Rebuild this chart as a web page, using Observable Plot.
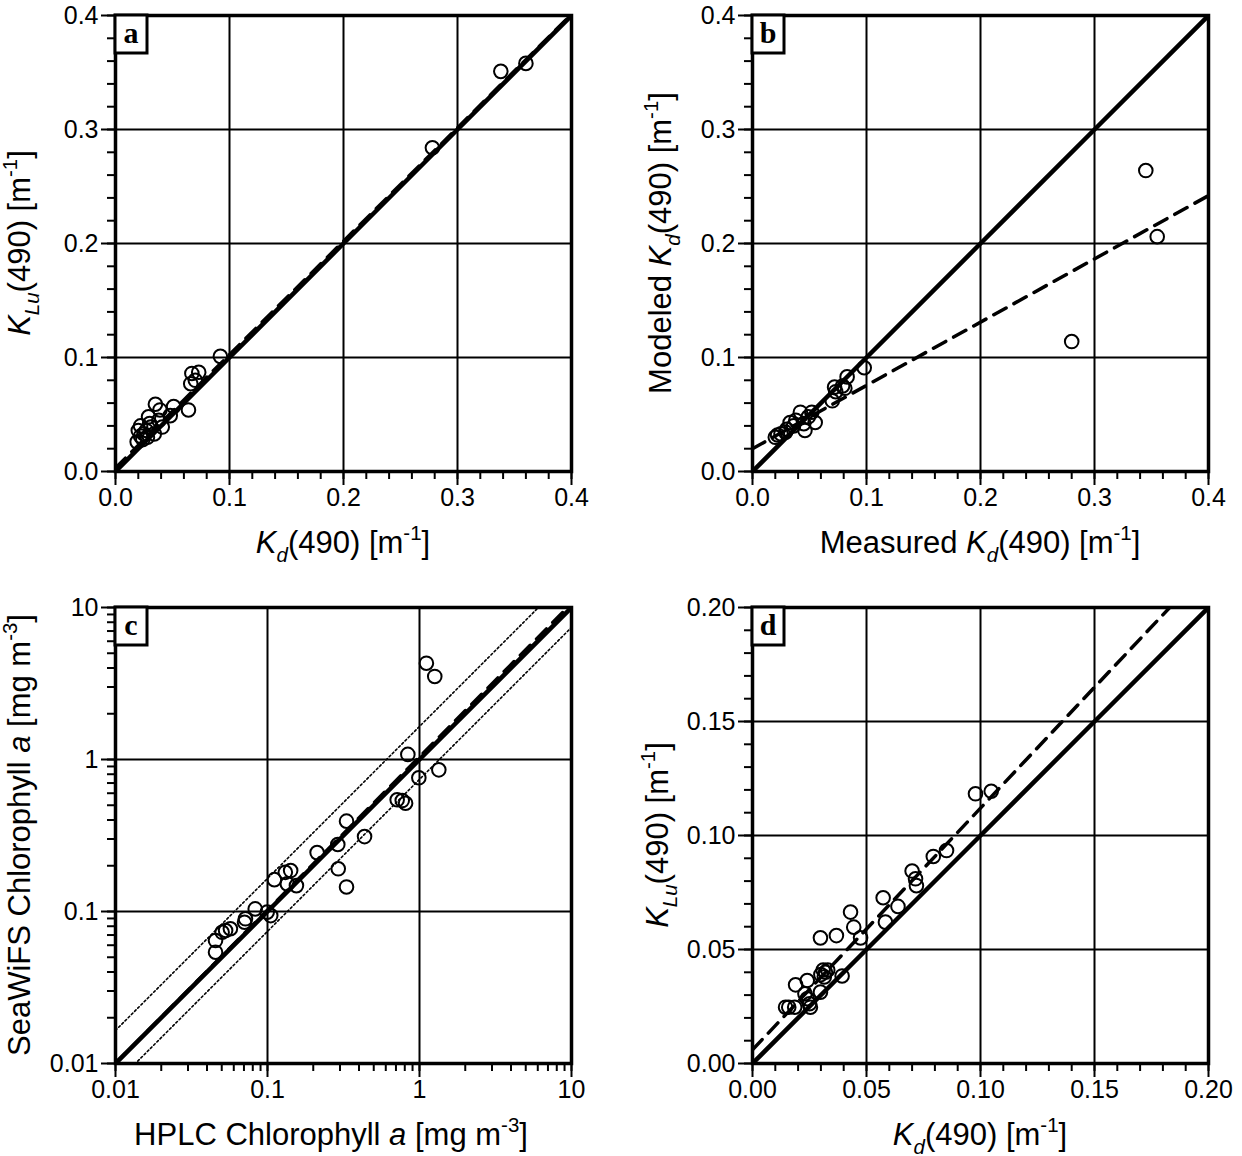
<!DOCTYPE html>
<html><head><meta charset="utf-8">
<script src="https://cdn.jsdelivr.net/npm/d3@7"></script>
<script src="https://cdn.jsdelivr.net/npm/@observablehq/plot@0.6"></script>
<style>
body{margin:0;background:#fff;}
#chart{position:relative;width:1242px;height:1156px;background:#fff;}
#chart svg{position:absolute;overflow:visible;}
</style></head><body><div id="chart"></div>
<script>
// ---------- Panel a : K_d(490) vs K_Lu(490) ----------
const aKd  = [0.338,0.360,0.278,0.092,0.067,0.073,0.066,0.070,0.064,0.035,0.051,0.048,0.039,0.029,0.022,0.031,0.041,0.020,0.019,0.028,0.034,0.025,0.038,0.024,0.030,0.022,0.027];
const aKlu = [0.351,0.358,0.284,0.101,0.086,0.087,0.077,0.080,0.054,0.059,0.057,0.049,0.054,0.048,0.040,0.039,0.039,0.036,0.026,0.030,0.033,0.033,0.045,0.028,0.042,0.031,0.036];
const aFitX = [0, 0.4];
const aFitY = [0.003, 0.401];
// ---------- Panel b : measured vs modeled K_d(490) ----------
const bMeasured = [0.345,0.355,0.280,0.098,0.083,0.079,0.081,0.072,0.073,0.070,0.042,0.052,0.055,0.046,0.033,0.038,0.030,0.022,0.020,0.025,0.045,0.049,0.029,0.036];
const bModeled  = [0.264,0.206,0.114,0.091,0.083,0.075,0.073,0.074,0.070,0.062,0.052,0.052,0.043,0.036,0.043,0.045,0.037,0.032,0.030,0.033,0.042,0.048,0.0345,0.040];
const bFitX = [0, 0.4];
const bFitY = [0.020, 0.242];
// ---------- Panel c : HPLC vs SeaWiFS chlorophyll a ----------
const cHplc    = [1.11,1.26,0.838,1.34,0.99,0.713,0.77,0.81,0.331,0.435,0.290,0.212,0.292,0.331,0.142,0.131,0.111,0.135,0.155,0.083,0.0716,0.0706,0.105,0.0995,0.057,0.053,0.0503,0.0455,0.0455];
const cSeawifs = [4.30,3.52,1.08,0.855,0.758,0.543,0.537,0.516,0.393,0.311,0.276,0.244,0.191,0.145,0.186,0.181,0.162,0.152,0.148,0.104,0.0895,0.085,0.094,0.099,0.077,0.075,0.073,0.0644,0.054];
const cFitX = [0.01, 10];
const cFitY = [0.01, 10.6];
const cUpperX = [0.01, 10];
const cUpperY = [0.0165, 16.5];
const cLowerX = [0.01, 10];
const cLowerY = [0.0074, 7.4];
// ---------- Panel d : K_d(490) vs K_Lu(490) ----------
const dKd  = [0.0978,0.1047,0.0793,0.0851,0.070,0.0715,0.0719,0.0573,0.0638,0.0583,0.043,0.0444,0.0474,0.0368,0.0298,0.0393,0.031,0.032,0.033,0.030,0.0315,0.024,0.0189,0.0298,0.023,0.024,0.025,0.0145,0.0159,0.0254,0.0185];
const dKlu = [0.1183,0.1194,0.0908,0.0934,0.0844,0.081,0.078,0.0727,0.0689,0.062,0.0664,0.0598,0.0551,0.0561,0.0551,0.0384,0.041,0.040,0.041,0.039,0.038,0.0364,0.0345,0.0313,0.0306,0.0284,0.0262,0.0247,0.0247,0.0247,0.0247];
const dFitX = [0, 0.2];
const dFitY = [0.006, 0.218];
// ---------- ticks ----------
const abTicks = [0, 0.1, 0.2, 0.3, 0.4];
const abTickLabels = ["0.0", "0.1", "0.2", "0.3", "0.4"];
const cTicks = [0.01, 0.1, 1, 10];
const cTickLabels = ["0.01", "0.1", "1", "10"];
const dTicks = [0, 0.05, 0.10, 0.15, 0.20];
const dTickLabels = ["0.00", "0.05", "0.10", "0.15", "0.20"];

const abMinor = d3.range(0, 0.4001, 0.02);
const dMinor = d3.range(0, 0.2001, 0.01);
const cMinor = [0.01,0.1,1].flatMap(p => d3.range(1, 10).map(k => k * p)).concat([10]);

const pairs = (xs, ys) => xs.map((x, i) => ({x, y: ys[i]}));
const FONT = "'Liberation Sans', Arial, Helvetica, sans-serif";
const W = 621, H = 578, PW = 456;

function makePanel(cfg) {
  const fmt = (ticks, labels) => d => { const i = ticks.findIndex(t => Math.abs(t - d) < 1e-9); return i >= 0 ? labels[i] : ""; };
  const ax = {tickSize: 8, strokeWidth: 2, tickFormat: () => "", label: null};
  const marks = [
    Plot.gridX(cfg.ticks, {stroke: "black", strokeOpacity: 1, strokeWidth: 2}),
    Plot.gridY(cfg.ticks, {stroke: "black", strokeOpacity: 1, strokeWidth: 2}),
    ...cfg.lines,
    Plot.dot(cfg.points, {x: "x", y: "y", r: 6.8, stroke: "black", strokeWidth: 2, fill: "none"}),
    Plot.frame({stroke: "black", strokeWidth: 3.5}),
    Plot.axisX(cfg.minor, ax),
    Plot.axisY(cfg.minor, ax),
    Plot.axisX(cfg.ticks, {tickSize: 14, tickPadding: 3, strokeWidth: 2, fontSize: 25, tickFormat: fmt(cfg.ticks, cfg.labels), label: null}),
    Plot.axisY(cfg.ticks, {tickSize: 14, tickPadding: 3, strokeWidth: 2, fontSize: 25, tickFormat: fmt(cfg.ticks, cfg.labels), label: null})
  ];
  const svgEl = Plot.plot({
    width: W, height: H,
    marginLeft: cfg.ml, marginRight: W - cfg.ml - PW,
    marginTop: cfg.mt, marginBottom: H - cfg.mt - PW,
    x: {type: cfg.type, domain: cfg.domain},
    y: {type: cfg.type, domain: cfg.domain},
    style: {fontFamily: FONT, color: "black", background: "transparent", overflow: "visible"},
    marks
  });
  svgEl.style.left = cfg.left + "px";
  svgEl.style.top = cfg.top + "px";
  document.getElementById("chart").appendChild(svgEl);
  const svg = d3.select(svgEl);
  // panel letter box
  svg.append("rect").attr("x", cfg.ml).attr("y", cfg.mt).attr("width", 32).attr("height", 38)
    .attr("fill", "white").attr("stroke", "black").attr("stroke-width", 3);
  svg.append("text").attr("x", cfg.ml + 16).attr("y", cfg.mt + 28).attr("text-anchor", "middle")
    .attr("font-family", "'Liberation Serif', 'DejaVu Serif', serif").attr("font-weight", "bold")
    .attr("font-size", 30).attr("fill", "black").text(cfg.letter);
  // axis titles
  richLabel(svg, cfg.ml + PW / 2 + (cfg.xTitleDx || 0), cfg.mt + PW + 82, 0, cfg.xTitle);
  richLabel(svg, cfg.yTitleX, cfg.mt + PW / 2, -90, cfg.yTitle);
}

function richLabel(svg, x, y, rot, parts) {
  const size = 31;
  const t = svg.append("text").attr("transform", `translate(${x},${y}) rotate(${rot})`)
    .attr("text-anchor", "middle").attr("font-family", FONT).attr("font-size", size).attr("fill", "black");
  let shift = 0;
  for (const p of parts) {
    const ts = t.append("tspan").text(p.t);
    const target = p.sub ? size * 0.28 : p.sup ? -size * 0.42 : 0;
    if (target !== shift) { ts.attr("dy", target - shift); shift = target; }
    if (p.sub || p.sup) ts.attr("font-size", size * 0.66);
    if (p.i) ts.attr("font-style", "italic");
  }
}

const kdTitle = (pre) => [...(pre ? [{t: pre}] : []), {t: "K", i: true}, {t: "d", i: true, sub: true}, {t: "(490) [m"}, {t: "-1", sup: true}, {t: "]"}];
const kluTitle = [{t: "K", i: true}, {t: "Lu", i: true, sub: true}, {t: "(490) [m"}, {t: "-1", sup: true}, {t: "]"}];

const solid = (xs, ys) => Plot.line(pairs(xs, ys), {x: "x", y: "y", stroke: "black", strokeWidth: 4.5, clip: true});
const dashed = (xs, ys) => Plot.line(pairs(xs, ys), {x: "x", y: "y", stroke: "black", strokeWidth: 3.5, strokeDasharray: "14,9", clip: true});
const dotted = (xs, ys) => Plot.line(pairs(xs, ys), {x: "x", y: "y", stroke: "black", strokeWidth: 1.6, strokeDasharray: "2,2.5", clip: true});

makePanel({left: 0, top: 0, ml: 115, mt: 15, type: "linear", domain: [0, 0.4],
  ticks: abTicks, labels: abTickLabels, minor: abMinor, letter: "a",
  lines: [solid(abTicks, abTicks), dashed(aFitX, aFitY)],
  points: pairs(aKd, aKlu), xTitle: kdTitle(""), yTitle: kluTitle, yTitleX: 30});

makePanel({left: 621, top: 0, ml: 131, mt: 15, type: "linear", domain: [0, 0.4],
  ticks: abTicks, labels: abTickLabels, minor: abMinor, letter: "b",
  lines: [solid(abTicks, abTicks), dashed(bFitX, bFitY)],
  points: pairs(bMeasured, bModeled), xTitle: kdTitle("Measured "), yTitle: kdTitle("Modeled "), yTitleX: 50});

makePanel({left: 0, top: 578, ml: 115, mt: 29, type: "log", domain: [0.01, 10],
  ticks: cTicks, labels: cTickLabels, minor: cMinor, letter: "c",
  lines: [dotted(cUpperX, cUpperY), dotted(cLowerX, cLowerY), solid(cTicks, cTicks), dashed(cFitX, cFitY)],
  points: pairs(cHplc, cSeawifs), xTitleDx: -12,
  xTitle: [{t: "HPLC Chlorophyll "}, {t: "a", i: true}, {t: " [mg m"}, {t: "-3", sup: true}, {t: "]"}],
  yTitle: [{t: "SeaWiFS Chlorophyll "}, {t: "a", i: true}, {t: " [mg m"}, {t: "-3", sup: true}, {t: "]"}],
  yTitleX: 30});

makePanel({left: 621, top: 578, ml: 131, mt: 29, type: "linear", domain: [0, 0.2],
  ticks: dTicks, labels: dTickLabels, minor: dMinor, letter: "d",
  lines: [solid(dTicks, dTicks), dashed(dFitX, dFitY)],
  points: pairs(dKd, dKlu), xTitle: kdTitle(""), yTitle: kluTitle, yTitleX: 47});
</script></body></html>
